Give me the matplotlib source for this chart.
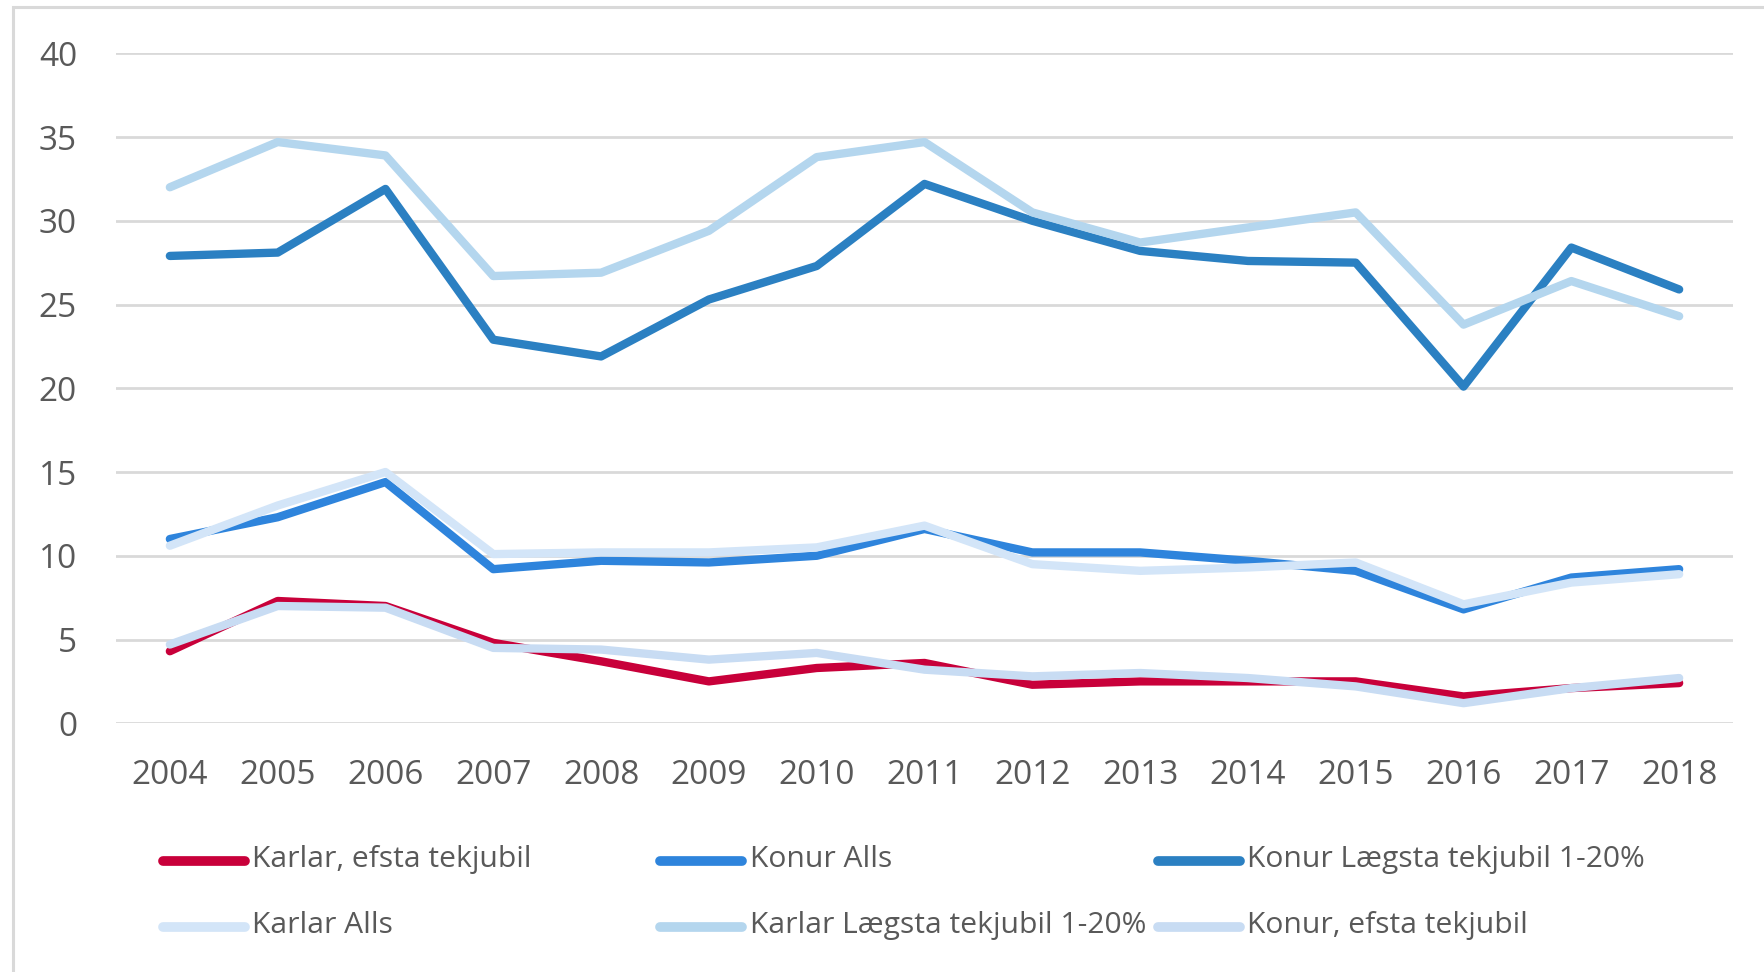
import matplotlib
matplotlib.use('Agg')
import matplotlib.pyplot as plt
from matplotlib.lines import Line2D
from matplotlib.patches import Rectangle

plt.rcParams['font.family'] = ['Open Sans', 'DejaVu Sans']

# #### Data
years = ['2004', '2005', '2006', '2007', '2008', '2009', '2010', '2011',
         '2012', '2013', '2014', '2015', '2016', '2017', '2018']

karlar_efsta = [4.3, 7.3, 7.0, 4.8, 3.7, 2.5, 3.3, 3.6, 2.3, 2.5, 2.5, 2.5, 1.6, 2.1, 2.4]
konur_alls = [11.0, 12.3, 14.4, 9.2, 9.7, 9.6, 10.0, 11.6, 10.2, 10.2, 9.7, 9.1, 6.8, 8.7, 9.2]
konur_laegsta = [27.9, 28.1, 31.9, 22.9, 21.9, 25.3, 27.3, 32.2, 30.0, 28.2, 27.6, 27.5, 20.1, 28.4, 25.9]
karlar_alls = [10.6, 13.0, 15.0, 10.1, 10.2, 10.2, 10.5, 11.8, 9.5, 9.1, 9.3, 9.6, 7.1, 8.4, 8.9]
karlar_laegsta = [32.0, 34.7, 33.9, 26.7, 26.9, 29.4, 33.8, 34.7, 30.5, 28.7, 29.6, 30.5, 23.8, 26.4, 24.3]
konur_efsta = [4.7, 7.0, 6.9, 4.5, 4.4, 3.8, 4.2, 3.2, 2.8, 3.0, 2.7, 2.2, 1.2, 2.1, 2.7]

labels = ['Karlar, efsta tekjubil', 'Konur Alls', 'Konur Lægsta tekjubil 1-20%',
          'Karlar Alls', 'Karlar Lægsta tekjubil 1-20%', 'Konur, efsta tekjubil']
series = [karlar_efsta, konur_alls, konur_laegsta, karlar_alls, karlar_laegsta, konur_efsta]
colors = ['#C8003A', '#2E84DC', '#2B80C2', '#D3E5F8', '#B4D6EE', '#C8DCF3']

text_grey = '#595959'
grid_grey = '#D9D9D9'

fig = plt.figure(figsize=(17.65, 9.72), dpi=100)
ax = fig.add_axes([0.0657, 0.2559, 0.9162, 0.6893])

x = list(range(len(years)))
for vals, col, lab in zip(series, colors, labels):
    ax.plot(x, vals, color=col, linewidth=6, label=lab,
            solid_joinstyle='round', solid_capstyle='round', zorder=3)

ax.set_xlim(-0.5, len(years) - 0.5)
ax.set_ylim(0, 40)
ax.set_yticks(range(0, 41, 5))
ax.set_xticks(x)
ax.set_xticklabels(years)
ax.grid(axis='y', color=grid_grey, linewidth=2)
ax.set_axisbelow(True)
for s in ax.spines.values():
    s.set_visible(False)
ax.tick_params(axis='both', length=0, labelsize=24, colors=text_grey)
ax.tick_params(axis='y', pad=28)
ax.tick_params(axis='x', pad=26)

# Chart border (Excel chart area), only the left and top edges are in view
fig.add_artist(Rectangle((13 / 1765, -0.1), 1.2, 0.1 + 1 - 7 / 972, transform=fig.transFigure,
                         fill=False, edgecolor=grid_grey, linewidth=2.2))

# Legend, laid out on a fixed 3 column grid like Excel does it
W, H = 1765.0, 972.0
col_x = [163, 660.5, 1158]
row_y = [861, 927]
for i, (col, lab) in enumerate(zip(colors, labels)):
    cx = col_x[i % 3]
    ry = row_y[i // 3]
    fig.add_artist(Line2D([cx / W, (cx + 82) / W], [1 - ry / H, 1 - ry / H], transform=fig.transFigure,
                          color=col, linewidth=7, solid_capstyle='round'))
    fig.text((cx + 89) / W, 1 - (ry - 2) / H, lab, fontsize=21.6, color=text_grey,
             ha='left', va='center')

fig.savefig('out.png', dpi=100)
